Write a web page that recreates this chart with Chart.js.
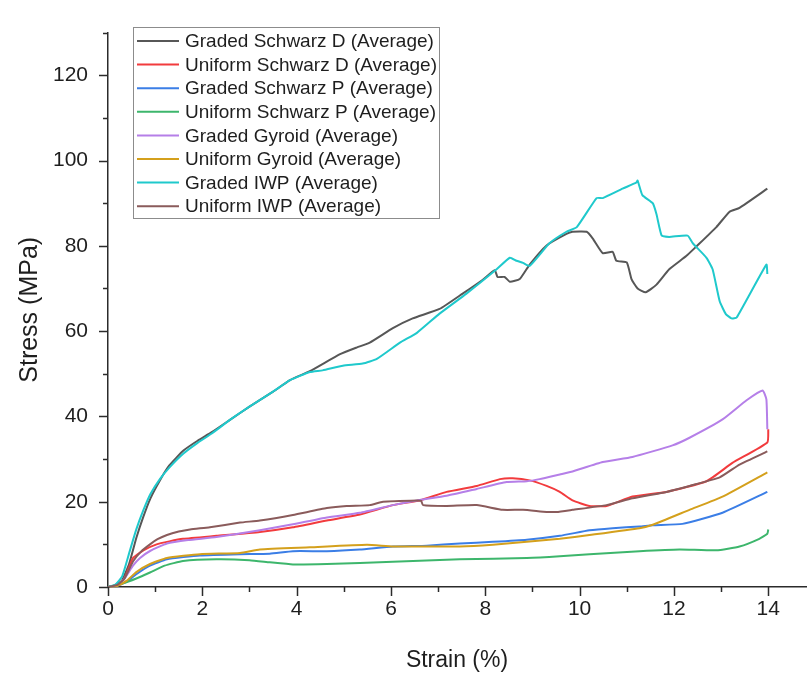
<!DOCTYPE html>
<html>
<head>
<meta charset="utf-8">
<script src="https://cdn.jsdelivr.net/npm/chart.js@4.4.1/dist/chart.umd.min.js"></script>
<style>
  html, body { margin: 0; padding: 0; background: #ffffff; }
  #wrap { width: 809px; height: 675px; position: relative; }
</style>
</head>
<body>
<div id="wrap"><canvas id="chart" width="809" height="675"></canvas></div>
<script>
// Compression stress-strain curves (averaged per lattice type)
const seriesNames = [
  'Graded Schwarz D (Average)',
  'Uniform Schwarz D (Average)',
  'Graded Schwarz P (Average)',
  'Uniform Schwarz P (Average)',
  'Graded Gyroid (Average)',
  'Uniform Gyroid (Average)',
  'Graded IWP (Average)',
  'Uniform IWP (Average)'
];
const seriesColors = ['#575757', '#f23b3d', '#3b7ee6', '#3db66c', '#b57fe8', '#d4a01c', '#1fc9cc', '#8a5b5b'];

// Graded Schwarz D
const gsdStrain = [0, 0.15, 0.3, 0.45, 0.6, 0.75, 0.9, 1.1, 1.3, 1.6, 1.9, 2.2, 2.6, 3.0, 3.5, 3.86, 4.28, 4.92, 5.28, 5.55, 6.04, 6.46, 7.03, 7.52, 7.94, 8.2, 8.26, 8.41, 8.52, 8.73, 8.94, 9.3, 9.72, 9.85, 10.15, 10.28, 10.49, 10.7, 10.78, 11.0, 11.1, 11.23, 11.4, 11.63, 11.9, 12.26, 12.48, 12.9, 13.18, 13.39, 13.98];
const gsdStress = [0, 0.4, 1.6, 5.5, 11.5, 16.5, 20.8, 25.0, 28.5, 32.0, 34.3, 36.3, 39.3, 42.3, 45.8, 48.5, 50.6, 54.6, 56.2, 57.3, 60.7, 63.0, 65.2, 68.8, 72.0, 74.3, 72.7, 72.7, 71.6, 72.2, 75.6, 80.1, 82.8, 83.3, 83.3, 81.7, 78.3, 78.6, 76.5, 76.1, 72.2, 70.0, 69.1, 70.9, 74.5, 77.6, 79.9, 84.4, 88.0, 88.9, 93.4];

// Uniform Schwarz D
const usdStrain = [0, 0.2, 0.35, 0.53, 0.75, 1.03, 1.3, 1.59, 2.3, 3.22, 3.92, 4.64, 5.34, 6.04, 6.61, 7.18, 7.82, 8.31, 8.58, 8.94, 9.3, 9.58, 9.85, 10.21, 10.57, 11.12, 11.84, 12.69, 13.24, 13.98, 14.0];
const usdStress = [0, 0.4, 2.0, 6.8, 8.6, 10.0, 10.7, 11.3, 12.0, 12.9, 14.0, 15.6, 17.0, 19.2, 20.3, 22.3, 23.7, 25.3, 25.5, 25.0, 23.7, 22.3, 20.3, 19.0, 19.0, 21.2, 22.3, 24.8, 29.1, 33.9, 37.0];

// Graded Schwarz P
const gspStrain = [0, 0.2, 0.4, 0.6, 0.89, 1.25, 1.95, 2.8, 3.43, 3.92, 4.64, 5.34, 6.04, 6.76, 7.46, 8.16, 8.88, 9.58, 10.21, 10.7, 11.27, 11.55, 12.18, 13.03, 13.98];
const gspStress = [0, 0.3, 1.3, 3.0, 5.0, 6.5, 7.4, 7.7, 7.8, 8.4, 8.4, 8.8, 9.5, 9.7, 10.2, 10.6, 11.1, 12.0, 13.3, 13.8, 14.2, 14.5, 14.8, 17.4, 22.3];

// Uniform Schwarz P
const uspStrain = [0, 0.3, 0.6, 0.89, 1.2, 1.59, 2.3, 3.0, 3.43, 3.92, 4.64, 6.04, 7.46, 8.88, 9.58, 10.21, 11.27, 12.12, 12.9, 13.39, 13.81, 13.98, 14.0];
const uspStress = [0, 0.8, 2.0, 3.4, 5.0, 6.1, 6.5, 6.3, 5.8, 5.3, 5.4, 5.9, 6.5, 6.8, 7.2, 7.7, 8.4, 8.8, 8.6, 9.5, 11.3, 12.5, 13.5];

// Graded Gyroid
const ggStrain = [0, 0.2, 0.35, 0.53, 0.68, 0.9, 1.25, 1.7, 2.3, 3.22, 3.92, 4.64, 5.34, 6.04, 6.55, 7.18, 7.82, 8.45, 8.88, 9.15, 9.58, 9.85, 10.49, 11.12, 11.97, 12.33, 13.03, 13.54, 13.88, 13.96, 13.98];
const ggStress = [0, 0.4, 2.0, 5.0, 6.8, 8.5, 10.2, 11.0, 11.7, 13.3, 14.7, 16.3, 17.4, 19.2, 20.3, 21.4, 23.0, 24.6, 24.8, 25.3, 26.4, 27.1, 29.3, 30.5, 33.2, 35.0, 39.3, 43.8, 46.1, 44.0, 37.0];

// Uniform Gyroid
const ugStrain = [0, 0.2, 0.4, 0.6, 0.89, 1.25, 1.95, 2.8, 3.22, 4.28, 5.49, 6.04, 7.46, 8.16, 8.88, 9.58, 10.21, 11.27, 11.55, 12.33, 13.03, 13.98];
const ugStress = [0, 0.3, 1.5, 3.5, 5.4, 6.8, 7.7, 8.0, 8.8, 9.3, 9.9, 9.5, 9.5, 9.9, 10.6, 11.3, 12.2, 13.8, 14.6, 18.1, 21.2, 26.9];

// Graded IWP
const giwpStrain = [0, 0.15, 0.3, 0.45, 0.6, 0.75, 0.9, 1.1, 1.3, 1.6, 1.9, 2.2, 2.6, 3.0, 3.5, 3.86, 4.28, 4.55, 4.98, 5.4, 5.7, 6.19, 6.55, 7.03, 7.6, 8.24, 8.52, 8.66, 8.8, 8.94, 9.36, 9.72, 9.94, 10.36, 10.49, 10.91, 11.2, 11.23, 11.33, 11.55, 11.63, 11.74, 11.9, 12.29, 12.4, 12.69, 12.82, 12.97, 13.1, 13.22, 13.33, 13.96, 13.98];
const giwpStress = [0, 0.5, 2.5, 8.0, 13.5, 18.0, 21.8, 25.3, 28.0, 31.3, 33.8, 36.0, 39.3, 42.3, 45.8, 48.5, 50.4, 50.8, 51.9, 52.4, 53.5, 57.3, 59.6, 64.1, 68.8, 74.5, 77.2, 76.5, 76.0, 75.3, 80.6, 83.3, 84.4, 91.2, 91.2, 93.4, 94.8, 95.3, 91.9, 90.0, 87.4, 82.4, 82.1, 82.4, 80.6, 77.2, 74.5, 67.0, 64.0, 63.0, 63.2, 75.6, 73.4];

// Uniform IWP
const uiwpStrain = [0, 0.2, 0.35, 0.53, 0.7, 0.89, 1.05, 1.25, 1.5, 1.74, 2.16, 2.8, 3.22, 3.92, 4.64, 5.06, 5.55, 5.83, 6.55, 6.64, 6.68, 7.18, 7.82, 8.37, 8.8, 9.3, 9.51, 9.85, 10.57, 11.12, 11.84, 12.33, 12.97, 13.39, 13.98];
const uiwpStress = [0, 0.5, 2.0, 6.0, 8.3, 10.0, 11.2, 12.2, 13.0, 13.5, 14.0, 15.1, 15.6, 16.9, 18.5, 19.0, 19.2, 20.0, 20.3, 20.2, 19.2, 19.0, 19.2, 18.1, 18.1, 17.6, 17.6, 18.1, 19.2, 20.8, 22.3, 23.7, 25.7, 28.7, 31.8];

const strainSets = [gsdStrain, usdStrain, gspStrain, uspStrain, ggStrain, ugStrain, giwpStrain, uiwpStrain];
const stressSets = [gsdStress, usdStress, gspStress, uspStress, ggStress, ugStress, giwpStress, uiwpStress];

// Axis tick values
const xMajorTicks = [0, 2, 4, 6, 8, 10, 12, 14];
const yMajorTicks = [0, 20, 40, 60, 80, 100, 120];

const FONT = "'Liberation Sans', Arial, Helvetica, sans-serif";
const AXIS_COLOR = '#2b2b2b';

const datasets = seriesNames.map((name, i) => ({
  label: name,
  data: strainSets[i].map((x, k) => ({ x: x, y: stressSets[i][k] })),
  borderColor: seriesColors[i],
  backgroundColor: seriesColors[i],
  borderWidth: 2,
  pointRadius: 0,
  tension: 0.15,
  fill: false,
  clip: 6
}));

// Draw order: later datasets on top, keep grey/cyan visible above the cluster
datasets.forEach((d, i) => { d.order = 8 - i; });

// Outward major/minor tick marks on both axes
const tickMarks = {
  id: 'tickMarks',
  afterDraw(chart) {
    const { ctx, scales: { x, y }, chartArea } = chart;
    ctx.save();
    ctx.strokeStyle = AXIS_COLOR;
    ctx.lineWidth = 1.5;
    for (let v = 0; v <= 14; v += 1) {
      const px = Math.round(x.getPixelForValue(v)) + 0.5;
      const len = (v % 2 === 0) ? 9 : 5;
      ctx.beginPath();
      ctx.moveTo(px, chartArea.bottom);
      ctx.lineTo(px, chartArea.bottom + len);
      ctx.stroke();
    }
    for (let v = 0; v <= 130; v += 10) {
      const py = Math.round(y.getPixelForValue(v)) + 0.5;
      const len = (v % 20 === 0) ? 9 : 5;
      ctx.beginPath();
      ctx.moveTo(chartArea.left, py);
      ctx.lineTo(chartArea.left - len, py);
      ctx.stroke();
    }
    ctx.restore();
  }
};

// Boxed legend inside the plot, upper left
const boxLegend = {
  id: 'boxLegend',
  afterDraw(chart) {
    const { ctx } = chart;
    const left = 133.5, top = 27.5, width = 306, height = 191;
    ctx.save();
    ctx.fillStyle = '#ffffff';
    ctx.fillRect(left, top, width, height);
    ctx.strokeStyle = '#8c8c8c';
    ctx.lineWidth = 1;
    ctx.strokeRect(left, top, width, height);
    ctx.font = '19px ' + FONT;
    ctx.textBaseline = 'middle';
    ctx.textAlign = 'left';
    chart.data.datasets.forEach((d, i) => {
      const rowY = 41 + i * 23.6;
      ctx.strokeStyle = d.borderColor;
      ctx.lineWidth = 2;
      ctx.beginPath();
      ctx.moveTo(137, rowY);
      ctx.lineTo(179, rowY);
      ctx.stroke();
      ctx.fillStyle = '#1e1e1e';
      ctx.fillText(d.label, 185, rowY + 1);
    });
    ctx.restore();
  }
};

new Chart(document.getElementById('chart'), {
  type: 'line',
  data: { datasets: datasets },
  plugins: [tickMarks, boxLegend],
  options: {
    responsive: false,
    animation: false,
    devicePixelRatio: 1,
    layout: { padding: { top: 12, right: 3, left: 0, bottom: 0 } },
    plugins: {
      legend: { display: false },
      tooltip: { enabled: false }
    },
    scales: {
      x: {
        type: 'linear',
        min: 0,
        max: 14.8,
        afterFit(scale) { scale.height = 88; },
        afterBuildTicks(scale) { scale.ticks = xMajorTicks.map(v => ({ value: v })); },
        grid: { display: true, drawOnChartArea: false, drawTicks: false },
        border: { display: true, color: AXIS_COLOR, width: 1.5 },
        ticks: {
          padding: 10,
          maxRotation: 0,
          color: '#1e1e1e',
          font: { family: FONT, size: 21 },
          callback: v => String(v)
        },
        title: {
          display: true,
          text: 'Strain (%)',
          color: '#1e1e1e',
          font: { family: FONT, size: 23 },
          padding: { top: 0, bottom: 1 }
        }
      },
      y: {
        type: 'linear',
        min: 0,
        max: 130,
        afterFit(scale) { scale.width = 108; },
        afterBuildTicks(scale) { scale.ticks = yMajorTicks.map(v => ({ value: v })); },
        grid: { display: true, drawOnChartArea: false, drawTicks: false },
        border: { display: true, color: AXIS_COLOR, width: 1.5 },
        ticks: {
          padding: 20,
          color: '#1e1e1e',
          font: { family: FONT, size: 21 },
          callback: v => String(v)
        },
        title: {
          display: true,
          text: 'Stress (MPa)',
          color: '#1e1e1e',
          font: { family: FONT, size: 25 },
          padding: { top: 15, bottom: 0 }
        }
      }
    }
  }
});
</script>
</body>
</html>
